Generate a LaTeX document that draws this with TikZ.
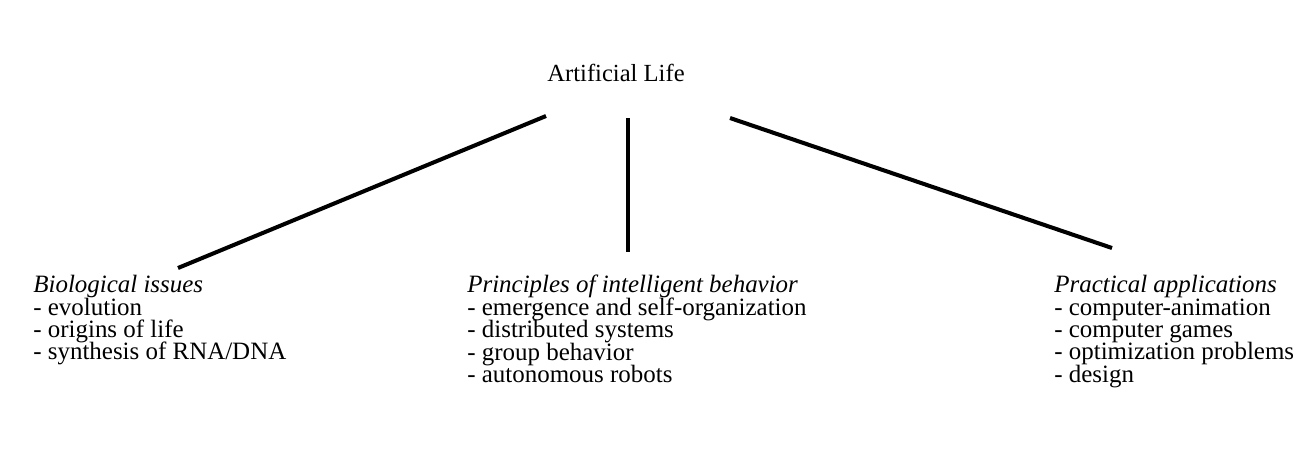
\documentclass[tikz,border=0pt]{standalone}
\usepackage{fontspec}
\setmainfont{Liberation Serif}
\usetikzlibrary{positioning}

\newcommand\branchfont{\fontsize{14.2}{12.75}\selectfont\lineskiplimit=-20pt\relax}
\tikzset{
  branch/.style={anchor=north west,align=left,inner sep=0pt,font=\branchfont},
  link/.style={line width=2.3pt,line cap=butt},
}

\begin{document}
\begin{tikzpicture}[x=0.02cm,y=-0.02cm]
\useasboundingbox (0,0) rectangle (1311,450);
% root and the three branches
\node[inner sep=0pt,font=\fontsize{14}{12.75}\selectfont] (root) at (616,73) {Artificial Life};
\node[branch] (bio) at (33,275) {\textit{Biological issues}\\- evolution\\- origins of life\\- synthesis of RNA/DNA};
\node[branch] (prin) at (467,275) {\textit{Principles of intelligent behavior}\\- emergence and self-organization\\- distributed systems\\- group behavior\\- autonomous robots};
\node[branch] (prac) at (1054,275) {\textit{Practical applications}\\- computer-animation\\- computer games\\- optimization problems\\- design};
% line ends
\coordinate (root-l) at (546,116);
\coordinate (root-m) at (628,118);
\coordinate (root-r) at (730,118);
\coordinate (bio-top) at (178,268);
\coordinate (prin-top) at (628,252);
\coordinate (prac-top) at (1112,248);
\draw[link] (root-l) -- (bio-top);
\draw[link] (root-m) -- (prin-top);
\draw[link] (root-r) -- (prac-top);
\end{tikzpicture}
\end{document}
